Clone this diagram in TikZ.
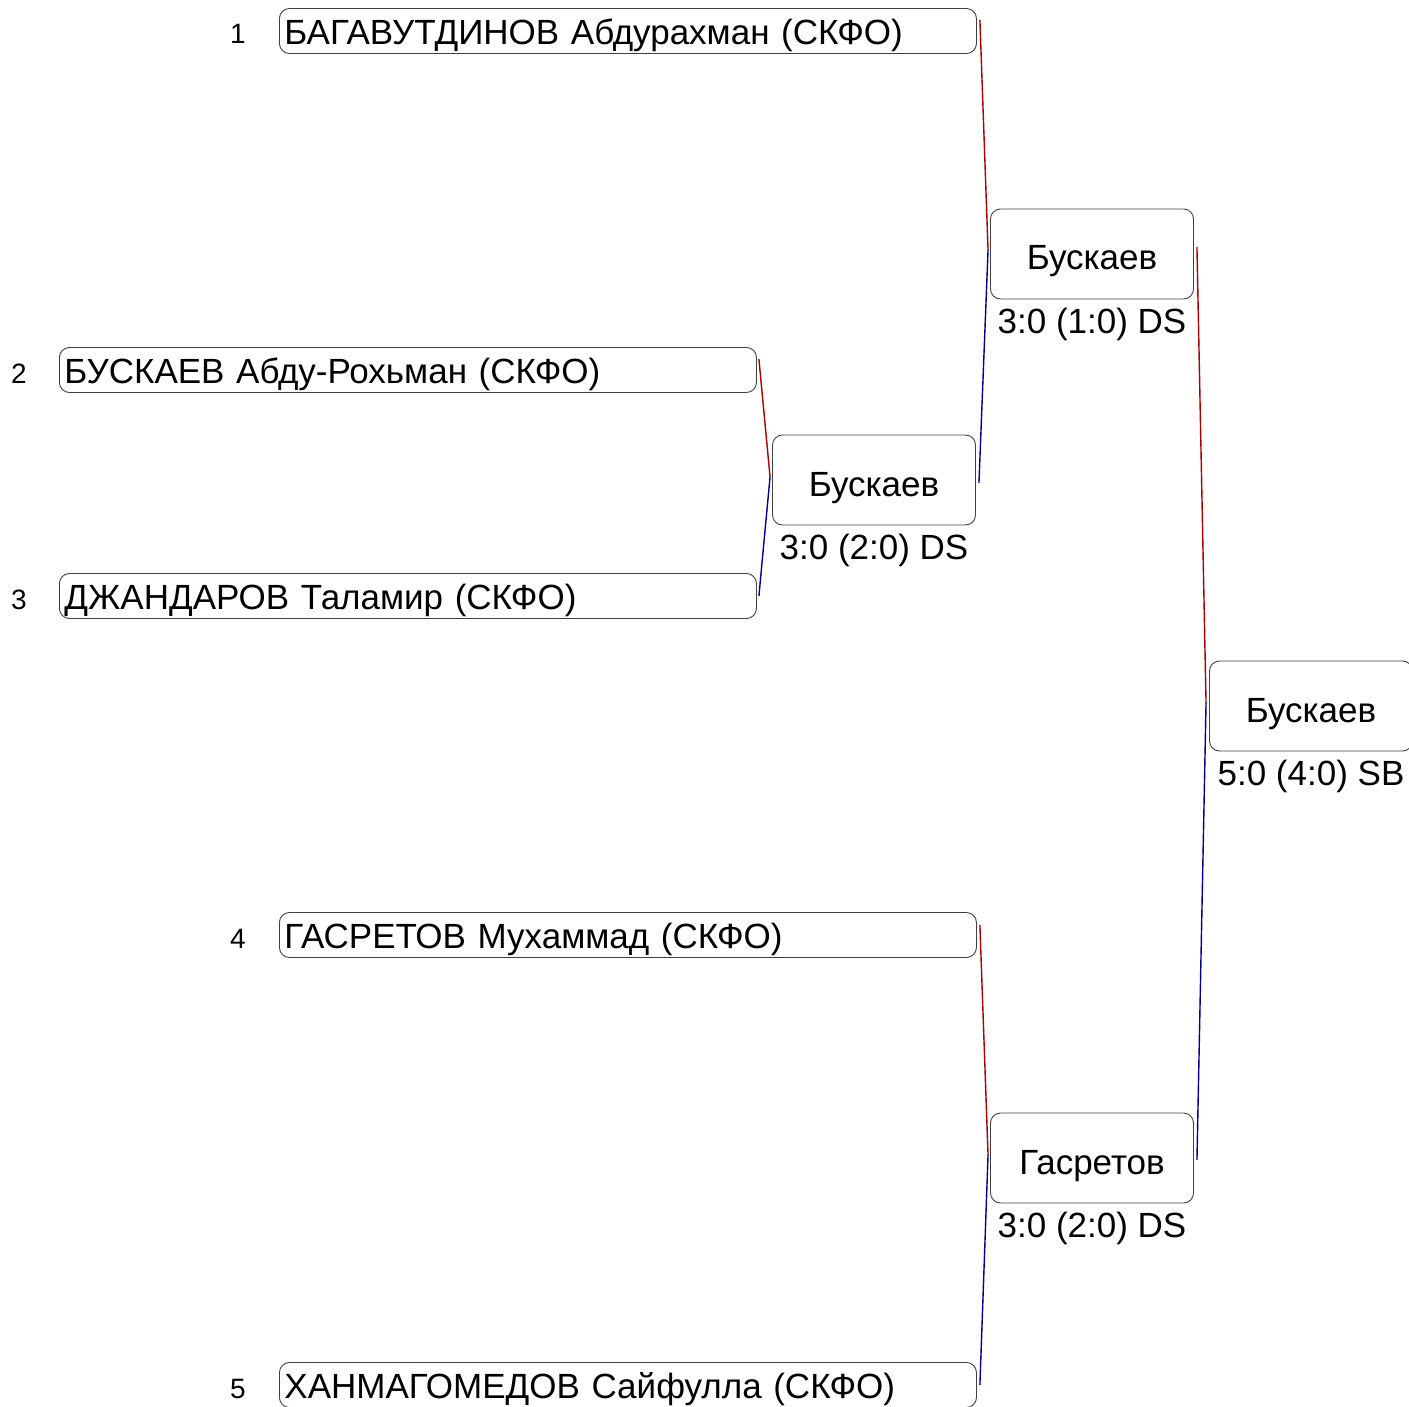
\documentclass[tikz,border=0pt]{standalone}
\usepackage{fontspec}
\setmainfont{Liberation Sans}
\usetikzlibrary{calc}
\begin{document}
\begin{tikzpicture}[x=1pt,y=-1pt,
	every node/.style={font=\fontsize{35}{40}\selectfont},
	entry/.style={draw=black!75,fill=white,rounded corners=10pt,line width=0.9pt,minimum height=45pt,text width=687pt,inner xsep=5pt,text height=27pt,text depth=0pt,align=left,anchor=west},
	match/.style={draw=black!75,fill=white,rounded corners=10pt,line width=0.9pt,minimum width=203pt,minimum height=90pt,text height=32pt,text depth=0pt},
	seed/.style={font=\fontsize{28}{32}\selectfont,anchor=base},
	score/.style={anchor=base},
	win/.style={draw=red!65!black,line width=1.4pt},
	lose/.style={draw=blue!55!black,line width=1.4pt}]
		\useasboundingbox (0,0) rectangle (1409,1407);
		% participants
		\node[entry] (e1) at (279,31){БАГАВУТДИНОВ Абдурахман (СКФО)};
		\node[entry] (e2) at (59,370){БУСКАЕВ Абду-Рохьман (СКФО)};
		\node[entry] (e3) at (59,596){ДЖАНДАРОВ Таламир (СКФО)};
		\node[entry] (e4) at (279,935){ГАСРЕТОВ Мухаммад (СКФО)};
		\node[entry] (e5) at (279,1385){ХАНМАГОМЕДОВ Сайфулла (СКФО)};
		\node[seed] (n1) at (238,44){1};
		\node[seed] (n2) at (19,383){2};
		\node[seed] (n3) at (19,609){3};
		\node[seed] (n4) at (238,948){4};
		\node[seed] (n5) at (238,1398){5};
		% matches
		\node[match] (m1) at (874,480){Бускаев};
		\node[match] (m2) at (1092,254){Бускаев};
		\node[match] (m3) at (1092,1158){Гасретов};
		\node[match] (m4) at (1311,706){Бускаев};
		\node[score] (s1) at (874,559){3:0 (2:0) DS};
		\node[score] (s2) at (1092,333){3:0 (1:0) DS};
		\node[score] (s3) at (1092,1237){3:0 (2:0) DS};
		\node[score] (s4) at (1311,785){5:0 (4:0) SB};
		% connectors
		\draw[win] ($(e2.east)+(2,-11)$)--($(m1.west)+(-2,-3)$);
		\draw[lose] ($(e3.east)+(2,0)$)--($(m1.west)+(-2,-3)$);
		\draw[win] ($(e1.east)+(3,-11)$)--($(m2.west)+(-2,-4)$);
		\draw[lose] ($(m1.east)+(3,3)$)--($(m2.west)+(-2,-4)$);
		\draw[win] ($(e4.east)+(3,-10)$)--($(m3.west)+(-2,-3)$);
		\draw[lose] ($(e5.east)+(3,0)$)--($(m3.west)+(-2,-3)$);
		\draw[win] ($(m2.east)+(3,-7)$)--($(m4.west)+(-3,-3)$);
		\draw[lose] ($(m3.east)+(3,2)$)--($(m4.west)+(-3,-3)$);
\end{tikzpicture}
\end{document}
